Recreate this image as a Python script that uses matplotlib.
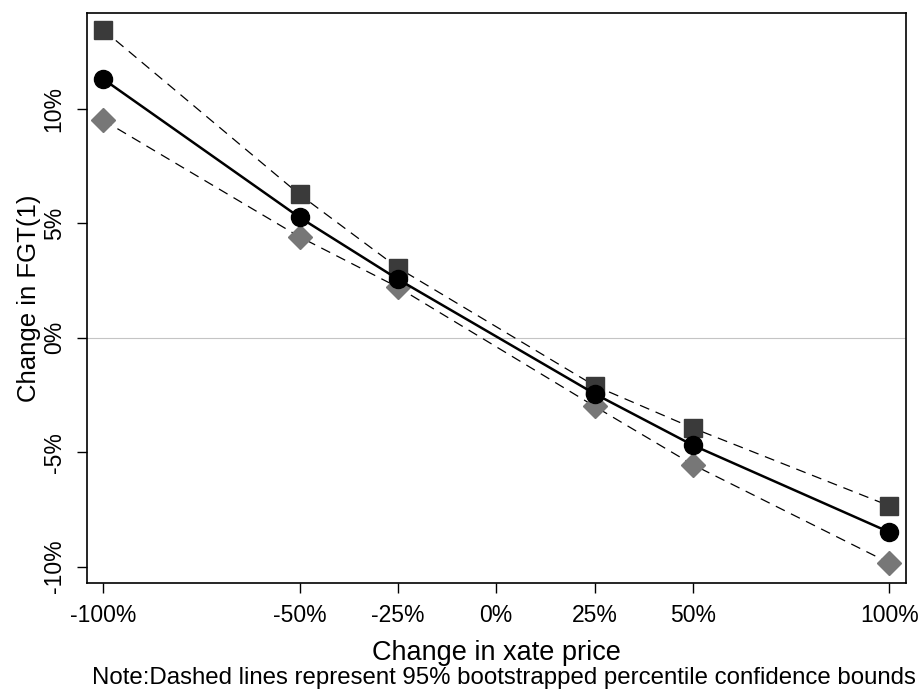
import matplotlib.pyplot as plt
from matplotlib.ticker import FuncFormatter

plt.rcParams['font.family'] = ['Liberation Sans', 'DejaVu Sans']

# change in xate price (%)
price_change = [-100, -50, -25, 25, 50, 100]
# change in FGT(1) (%)
fgt_mean = [11.3, 5.25, 2.55, -2.45, -4.7, -8.5]
fgt_upper = [13.45, 6.25, 3.05, -2.1, -3.95, -7.35]
fgt_lower = [9.5, 4.4, 2.2, -3.0, -5.55, -9.85]

xticks = [-100, -50, -25, 0, 25, 50, 100]
yticks = [-10, -5, 0, 5, 10]

fig = plt.figure(figsize=(9.23, 6.9), dpi=100)
ax = fig.add_axes([0.094, 0.155, 0.888, 0.826])

ax.axhline(0, color='#c4c4c4', lw=0.8, zorder=1)

dash = (0, (8, 5.5))
ax.plot(price_change, fgt_upper, ls=dash, color='black', lw=0.9,
        marker='s', ms=12.5, mfc='#3a3a3a', mec='#3a3a3a', zorder=3)
ax.plot(price_change, fgt_lower, ls=dash, color='black', lw=0.9,
        marker='D', ms=12.5, mfc='#777777', mec='#777777', zorder=3)
ax.plot(price_change, fgt_mean, ls='-', color='black', lw=1.8,
        marker='o', ms=13, mfc='black', mec='black', zorder=4)

ax.set_xlim(-104.1, 104.3)
ax.set_ylim(-10.72, 14.17)
ax.set_xticks(xticks)
ax.set_yticks(yticks)
ax.xaxis.set_major_formatter(FuncFormatter(lambda v, p: '%d%%' % v))
ax.yaxis.set_major_formatter(FuncFormatter(lambda v, p: '%d%%' % v))
ax.tick_params(axis='both', direction='out', length=7.2, width=1, labelsize=16.5, pad=8)
plt.setp(ax.get_yticklabels(), rotation=90, va='center')

for s in ax.spines.values():
    s.set_linewidth(1.2)

ax.set_ylabel('Change in FGT(1)', fontsize=18.5, labelpad=1)
ax.set_xlabel('Change in xate price', fontsize=19.5, labelpad=9)
fig.text(0.546, 0.034, 'Note:Dashed lines represent 95% bootstrapped percentile confidence bounds',
         ha='center', va='top', fontsize=17.3)

fig.savefig('out.png', dpi=100)
